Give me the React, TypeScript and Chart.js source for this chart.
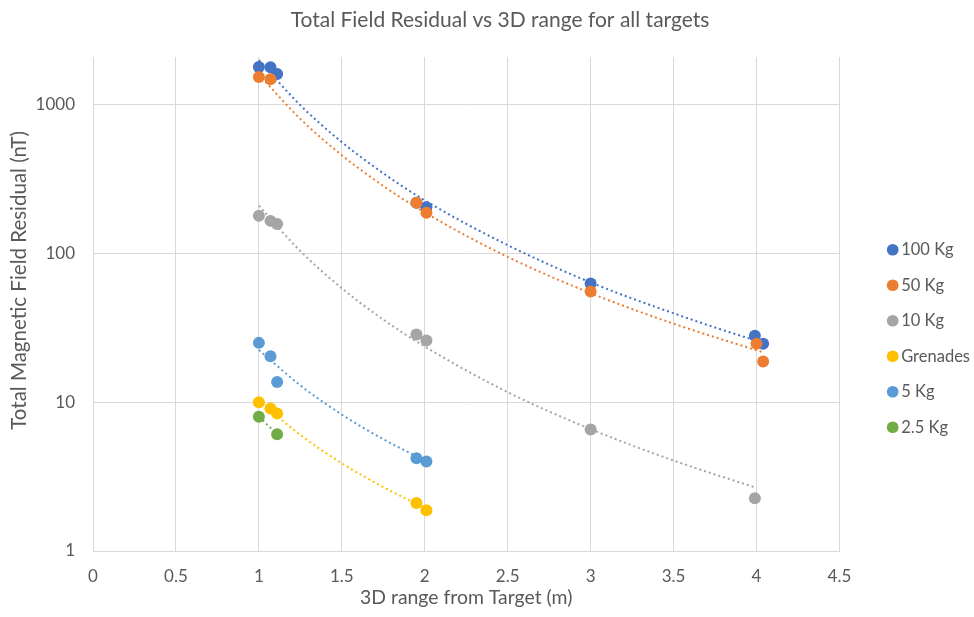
import React, { useEffect, useRef } from "react";
import { Chart, registerables } from "chart.js";

Chart.register(...registerables);

const seriesNames = ["100 Kg", "50 Kg", "10 Kg", "Grenades", "5 Kg", "2.5 Kg"];
const seriesColors = ["#4472C4", "#ED7D31", "#A5A5A5", "#FFC000", "#5B9BD5", "#70AD47"];

const range100 = [1.0, 1.07, 1.11, 1.95, 2.01, 3.0, 3.99, 4.04];
const resid100 = [1800, 1790, 1615, 220, 205, 63, 28, 24.8];
const range50 = [1.0, 1.07, 1.95, 2.01, 3.0, 4.0, 4.04];
const resid50 = [1540, 1490, 220, 188, 55.6, 24.8, 18.8];
const range10 = [1.0, 1.07, 1.11, 1.95, 2.01, 3.0, 3.99];
const resid10 = [180, 166, 158, 28.6, 26, 6.56, 2.26];
const rangeGren = [1.0, 1.07, 1.11, 1.95, 2.01];
const residGren = [10, 9.08, 8.4, 2.1, 1.88];
const range5 = [1.0, 1.07, 1.11, 1.95, 2.01];
const resid5 = [25.1, 20.4, 13.7, 4.2, 4.0];
const range25 = [1.0, 1.11];
const resid25 = [8.0, 6.1];

// dotted trend curves
const trendX100 = [1, 1.25, 1.5, 1.75, 2, 2.5, 3, 3.5, 4, 4.04];
const trendY100 = [2000, 995, 562, 347, 228, 114, 64, 39.7, 26, 25.3];
const trendX50 = [1, 1.25, 1.5, 1.75, 2, 2.5, 3, 3.5, 4, 4.04];
const trendY50 = [1600, 805, 459, 285, 189, 95, 54.2, 33.8, 22.4, 21.7];
const trendX10 = [1, 1.25, 1.5, 1.75, 2, 2.5, 3, 3.5, 3.99];
const trendY10 = [210, 104, 58.5, 36, 23.7, 11.7, 6.6, 4.06, 2.68];
const trendXGren = [1, 1.25, 1.5, 1.75, 2.01];
const trendYGren = [10.3, 6.03, 3.89, 2.69, 1.93];
const trendX5 = [1, 1.25, 1.5, 1.75, 2.01];
const trendY5 = [22.5, 13.0, 8.27, 5.65, 4.01];
const trendX25 = [1, 1.11];
const trendY25 = [8.0, 6.1];

const yTickValues = [1, 10, 100, 1000];

const TEXT = "#595959";
const GRID = "#d9d9d9";

const pts = (xs: number[], ys: number[]) => xs.map((x, i) => ({ x, y: ys[i] }));

const shiftBoxes = {
  id: "shiftBoxes",
  afterLayout(chart: any) {
    const lg = chart.legend;
    if (lg) {
      lg.left += 34;
      lg.right += 34;
      lg.top += 27;
      lg.bottom += 27;
    }
    const tb = chart.titleBlock;
    if (tb) {
      tb.left += 27;
      tb.right += 27;
    }
  },
};

export default function App() {
  const ref = useRef<HTMLCanvasElement | null>(null);

  useEffect(() => {
    if (!ref.current) return;
    Chart.defaults.font.family = "Lato";
    const series = [
      pts(range100, resid100),
      pts(range50, resid50),
      pts(range10, resid10),
      pts(rangeGren, residGren),
      pts(range5, resid5),
      pts(range25, resid25),
    ];
    const trends = [
      pts(trendX100, trendY100),
      pts(trendX50, trendY50),
      pts(trendX10, trendY10),
      pts(trendXGren, trendYGren),
      pts(trendX5, trendY5),
      pts(trendX25, trendY25),
    ];
    const datasets: any[] = [];
    series.forEach((d, i) => {
      datasets.push({
        label: seriesNames[i],
        data: d,
        backgroundColor: seriesColors[i],
        borderColor: seriesColors[i],
        pointRadius: 6,
        pointBorderWidth: 0,
        showLine: false,
        order: 6 - i,
      });
    });
    trends.forEach((d, i) => {
      datasets.push({
        label: seriesNames[i] + " trend",
        data: d,
        borderColor: seriesColors[i],
        backgroundColor: seriesColors[i],
        borderWidth: 2,
        borderDash: [2, 3],
        pointRadius: 0,
        showLine: true,
        fill: false,
        cubicInterpolationMode: "monotone",
        order: 20 + i,
      });
    });

    const chart = new Chart(ref.current, {
      type: "scatter",
      data: { datasets },
      plugins: [shiftBoxes],
      options: {
        animation: false,
        responsive: true,
        maintainAspectRatio: false,
        events: [],
        layout: { padding: { top: 6, right: 28, bottom: 0, left: 0 } },
        plugins: {
          title: {
            display: true,
            text: "Total Field Residual vs 3D range for all targets",
            color: TEXT,
            font: { size: 21, weight: "normal", family: "Lato" },
            padding: { top: 2, bottom: 23.8 },
          },
          legend: {
            position: "right",
            labels: {
              filter: (item: any) => item.datasetIndex < 6,
              sort: (a: any, b: any) => a.datasetIndex - b.datasetIndex,
              usePointStyle: true,
              pointStyle: "circle",
              boxWidth: 0.5,
              boxHeight: 8.3,
              color: TEXT,
              font: { size: 16.5, family: "Lato" },
              padding: 19,
            },
          },
          tooltip: { enabled: false },
        },
        scales: {
          x: {
            type: "linear",
            min: 0,
            max: 4.5,
            ticks: {
              stepSize: 0.5,
              color: TEXT,
              font: { size: 17 },
              padding: 15,
              callback: (v: any) => String(v),
            },
            grid: { color: GRID, drawTicks: false },
            border: { color: GRID },
            title: {
              display: true,
              text: "3D range from Target (m)",
              color: TEXT,
              font: { size: 19.4 },
              padding: { top: 0, bottom: 7.4 },
            },
            afterFit: (s: any) => {
              s.height = 66;
            },
          },
          y: {
            type: "logarithmic",
            min: 1,
            max: 2100,
            afterBuildTicks: (s: any) => {
              s.ticks = yTickValues.map((v) => ({ value: v }));
            },
            ticks: {
              color: TEXT,
              font: { size: 17 },
              padding: 18,
              callback: (v: any) => String(v),
            },
            grid: { color: GRID, drawTicks: false },
            border: { color: GRID },
            title: {
              display: true,
              text: "         Total Magnetic Field Residual (nT)",
              color: TEXT,
              font: { size: 20.5 },
              padding: { top: 6.7, bottom: 0 },
            },
            afterFit: (s: any) => {
              s.width = 93;
            },
          },
        },
      },
    });
    return () => chart.destroy();
  }, []);

  return (
    <div style={{ position: "fixed", left: 0, top: 0, width: 974, height: 617, background: "#fff" }}>
      <canvas ref={ref} />
    </div>
  );
}
